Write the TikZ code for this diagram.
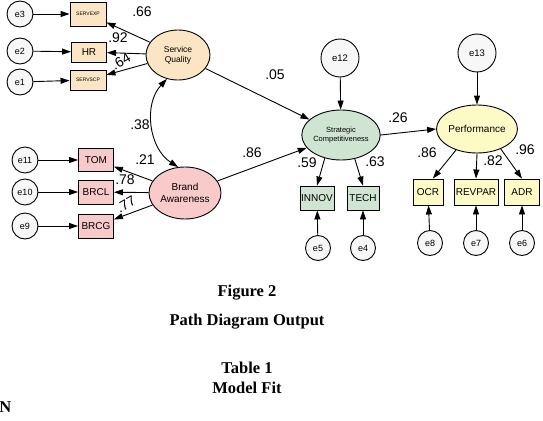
\documentclass[tikz,border=0pt]{standalone}
\usepackage{fontspec}
\setmainfont{Liberation Serif}
\setsansfont{Liberation Sans}
\usepackage{xcolor}
\usetikzlibrary{arrows.meta, positioning, shapes.geometric}

\definecolor{sqfill}{HTML}{FBE5C4}
\definecolor{bafill}{HTML}{F8CACA}
\definecolor{scfill}{HTML}{CFE5D1}
\definecolor{pffill}{HTML}{FDFBC5}
\definecolor{errfill}{HTML}{F7F7F7}

\begin{document}
\begin{tikzpicture}[x=1pt, y=-1pt, line width=0.9pt,
    err/.style={circle, draw, fill=errfill, inner sep=0pt, minimum size=26pt,
        font=\sffamily\fontsize{9}{10}\selectfont},
    bigerr/.style={err, minimum size=38pt, font=\sffamily\fontsize{9.5}{10}\selectfont},
    obs/.style={rectangle, draw, inner sep=1pt, minimum height=20pt,
        font=\sffamily\fontsize{10}{11}\selectfont},
    latent/.style={ellipse, draw, inner sep=0pt, minimum width=70pt, minimum height=50pt,
        align=center},
    path/.style={-{Triangle[length=9pt, width=6pt]}},
    coef/.style={inner sep=0pt, font=\sffamily\fontsize{14}{15}\selectfont},
    caption/.style={font=\bfseries\fontsize{16.5}{19}\selectfont}]
    \useasboundingbox (0,0) rectangle (543,420);

    % latent variables
    \node (sq) [latent, fill=sqfill, minimum width=64pt, font=\sffamily\fontsize{8.5}{10}\selectfont] at (178,55) {Service\\Quality};
    \node (ba) [latent, fill=bafill, minimum width=72pt, minimum height=52pt, font=\sffamily\fontsize{10}{12}\selectfont] at (185,193) {Brand\\Awareness};
    \node (sc) [latent, fill=scfill, font=\sffamily\fontsize{7.5}{9}\selectfont] at (341,135) {Strategic\\Competitiveness};
    \node (perf) [latent, fill=pffill, minimum height=48pt, font=\sffamily\fontsize{10}{12}\selectfont] at (477,129) {Performance};

    % indicators
    \node (servexp) [obs, fill=sqfill, minimum width=36pt, minimum height=24pt, font=\sffamily\fontsize{5}{6}\selectfont] at (88,14) {SERVEXP};
    \node (hr) [obs, fill=sqfill, minimum width=35pt] at (89,52) {HR};
    \node (servscp) [obs, fill=sqfill, minimum width=36pt, font=\sffamily\fontsize{5}{6}\selectfont] at (88,80) {SERVSCP};
    \node (tom) [obs, fill=bafill, minimum width=35pt, minimum height=23pt] at (96,160) {TOM};
    \node (brcl) [obs, fill=bafill, minimum width=35pt, minimum height=24pt] at (96,192) {BRCL};
    \node (brcg) [obs, fill=bafill, minimum width=35pt, minimum height=24pt] at (96,226) {BRCG};
    \node (innov) [obs, fill=scfill, minimum width=34pt, minimum height=24pt] at (317,198) {INNOV};
    \node (tech) [obs, fill=scfill, minimum width=32pt, minimum height=24pt] at (363,198) {TECH};
    \node (ocr) [obs, fill=pffill, minimum width=30pt, minimum height=26pt] at (428,192) {OCR};
    \node (revpar) [obs, fill=pffill, minimum width=44pt, minimum height=26pt] at (476,192) {REVPAR};
    \node (adr) [obs, fill=pffill, minimum width=35pt, minimum height=26pt] at (522,192) {ADR};

    % errors
    \node (e3) [err] at (20,14) {e3};
    \node (e2) [err] at (20,51) {e2};
    \node (e1) [err] at (20,82) {e1};
    \node (e11) [err] at (25,160) {e11};
    \node (e10) [err] at (25,192) {e10};
    \node (e9) [err] at (25,226) {e9};
    \node (e12) [bigerr] at (340,58) {e12};
    \node (e13) [bigerr] at (477,53) {e13};
    \node (e5) [err, minimum size=25pt] at (318,248) {e5};
    \node (e4) [err, minimum size=25pt] at (363,248) {e4};
    \node (e8) [err, minimum size=25pt] at (430,243) {e8};
    \node (e7) [err, minimum size=25pt] at (476,243) {e7};
    \node (e6) [err, minimum size=25pt] at (522,243) {e6};

    \draw[path] (e3) -- (servexp);
    \draw[path] (e2) -- (hr);
    \draw[path] (e1) -- (servscp);
    \draw[path] (e11) -- (tom);
    \draw[path] (e10) -- (brcl);
    \draw[path] (e9) -- (brcg);
    \draw[path] (e12) -- (sc);
    \draw[path] (e13) -- (perf);
    \draw[path] (e5) -- (innov);
    \draw[path] (e4) -- (tech);
    \draw[path] (e8) -- (ocr);
    \draw[path] (e7) -- (revpar);
    \draw[path] (e6) -- (adr);

    \draw[path] (sq) -- (servexp);
    \draw[path] (sq) -- (hr);
    \draw[path] (sq) -- (servscp);
    \draw[path] (ba) -- (tom);
    \draw[path] (ba) -- (brcl);
    \draw[path] (ba) -- (brcg);
    \draw[path] (sc.235) -- (innov.north);
    \draw[path] (sc.300) -- (tech.north);
    \draw[path] (perf.225) -- (ocr.70);
    \draw[path] (perf.south) -- (revpar.north);
    \draw[path] (perf.320) -- (adr.north);

    \draw[path] (sq) -- (sc);
    \draw[path] (ba) -- (sc);
    \draw[path] (sc.east) -- (perf.west);
    \draw[{Triangle[length=9pt, width=6pt]}-{Triangle[length=9pt, width=6pt]}] (sq.245) to[bend right=50] (ba.105);

    % coefficients
    \node (l66) [coef] at (142,12) {.66};
    \node (l92) [coef] at (118,38) {.92};
    \node (l64) [coef, rotate=30] at (121,61) {.64};
    \node (l38) [coef] at (140,125) {.38};
    \node (l21) [coef] at (145,160) {.21};
    \node (l78) [coef] at (125,180) {.78};
    \node (l77) [coef, rotate=30] at (126,204) {.77};
    \node (l05) [coef] at (275,75) {.05};
    \node (l86a) [coef] at (252,153) {.86};
    \node (l26) [coef] at (398,118) {.26};
    \node (l59) [coef] at (307,163) {.59};
    \node (l63) [coef] at (375,162) {.63};
    \node (l86b) [coef] at (427,153) {.86};
    \node (l82) [coef] at (493,161) {.82};
    \node (l96) [coef] at (525,150) {.96};

    % captions
    \node (fig) [caption] at (247,293) {Figure 2};
    \node (title) [caption] at (247,322) {Path Diagram Output};
    \node (tab) [caption] at (247,368) {Table 1};
    \node (fit) [caption] at (247,388) {Model Fit};
    \node (n) [caption, anchor=west, inner sep=0pt] at (-1,407) {N};
\end{tikzpicture}
\end{document}
